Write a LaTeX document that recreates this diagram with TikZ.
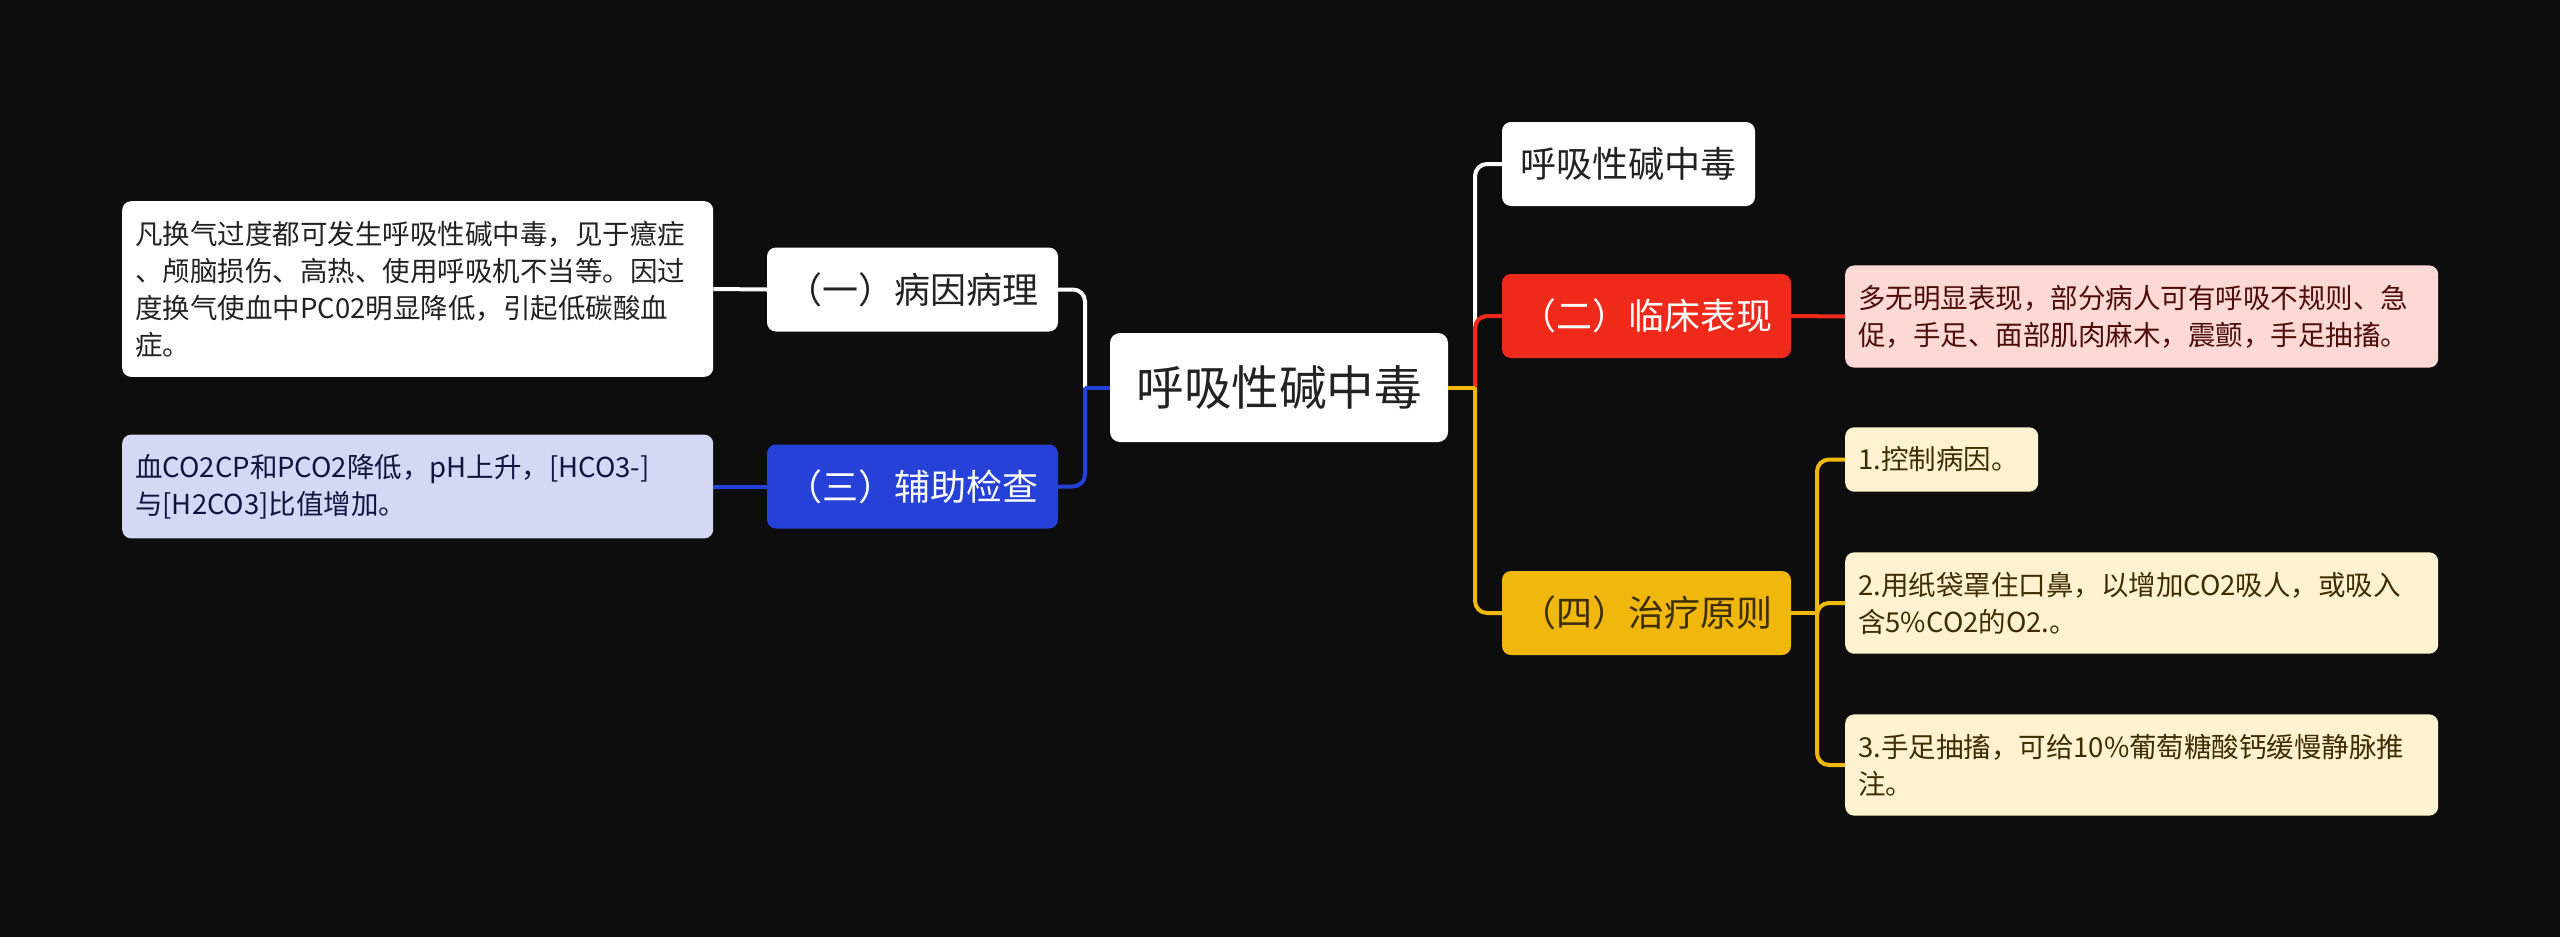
\documentclass[tikz,border=0pt]{standalone}
\usepackage{fontspec}
\setmainfont{Noto Sans CJK SC}
\definecolor{bg}{HTML}{0D0D0D}
\definecolor{cred}{HTML}{EF2A1B}
\definecolor{cblue}{HTML}{2541D8}
\definecolor{cyel}{HTML}{F0B80C}
\definecolor{fpink}{HTML}{FDD9D6}
\definecolor{fyel}{HTML}{FEF2D0}
\definecolor{flav}{HTML}{D5D8F5}
\definecolor{tpink}{HTML}{4D0E0A}
\definecolor{tyel}{HTML}{3D2D00}
\definecolor{tlav}{HTML}{101540}
\definecolor{tdark}{HTML}{222222}
\begin{document}
\begin{tikzpicture}[x=1pt,y=-1pt,
  rootbox/.style={rectangle, rounded corners=10pt, fill=white, text=tdark, minimum width=338pt, minimum height=109pt, inner sep=0pt, font=\fontsize{47.5}{56}\selectfont},
  subbox/.style={rectangle, rounded corners=9pt, minimum height=84pt, inner sep=0pt, font=\fontsize{36}{42}\selectfont},
  leafbox/.style={rectangle, rounded corners=9pt, anchor=west, inner xsep=13pt, inner ysep=19.5pt, align=left, font=\fontsize{27.5}{37}\selectfont},
  conn/.style={line width=4pt, rounded corners=12pt}]
\fill[bg] (0,0) rectangle (2560,937);
\useasboundingbox (0,0) rectangle (2560,937);

% root
\node[rootbox] (root) at (1279,387.5) {呼吸性碱中毒};

% right children
\node[subbox, fill=white, text=tdark, minimum width=253pt] (s1) at (1628.5,164) {呼吸性碱中毒};
\node[subbox, fill=cred, text=white, minimum width=289pt] (s2) at (1646.5,316) {（二）临床表现};
\node[subbox, fill=cyel, text=tyel, minimum width=289pt] (s4) at (1646.5,613) {（四）治疗原则};

% left children
\node[subbox, fill=white, text=tdark, minimum width=291pt] (s1l) at (912.5,289.5) {（一）病因病理};
\node[subbox, fill=cblue, text=white, minimum width=291pt] (s3) at (912.5,486.5) {（三）辅助检查};

% leaves
\node[leafbox, fill=fpink, text=tpink, text width=567pt] (lr) at (1845,316.5) {多无明显表现，部分病人可有呼吸不规则、急\\促，手足、面部肌肉麻木，震颤，手足抽搐。};
\node[leafbox, fill=fyel, text=tyel, text width=167pt] (y1) at (1845,459.5) {1.控制病因。};
\node[leafbox, fill=fyel, text=tyel, text width=567pt] (y2) at (1845,603) {2.用纸袋罩住口鼻，以增加CO2吸人，或吸入\\含5\%CO2的O2.。};
\node[leafbox, fill=fyel, text=tyel, text width=567pt] (y3) at (1845,765) {3.手足抽搐，可给10\%葡萄糖酸钙缓慢静脉推\\注。};
\node[leafbox, fill=white, text=tdark, text width=565pt] (l1) at (122,289) {凡换气过度都可发生呼吸性碱中毒，见于癔症\\、颅脑损伤、高热、使用呼吸机不当等。因过\\度换气使血中PC02明显降低，引起低碳酸血\\症。};
\node[leafbox, fill=flav, text=tlav, text width=565pt] (l2) at (122,486.5) {血CO2CP和PCO2降低，pH上升，[HCO3-]\\与[H2CO3]比值增加。};

% junction coordinates
\coordinate (rj) at (1475,387.5);
\coordinate (lj) at (1085,387.5);
\coordinate (yj) at (1817,613);

% right connectors
\draw[conn, white] (rj) |- (s1.west);
\draw[conn, cred] (rj) |- (s2.west);
\draw[conn, cyel] (rj) |- (s4.west);
\draw[conn, cyel] (root.east) -- (rj);

% left connectors
\draw[conn, white] (lj) |- (s1l.east);
\draw[conn, cblue] (lj) |- (s3.east);
\draw[conn, cblue] (root.west) -- (lj);

% leaf connectors
\draw[conn, cred] (s2.east) -- (lr.west);
\draw[conn, cyel] (yj) |- (y1.west);
\draw[conn, cyel] (yj) |- (y2.west);
\draw[conn, cyel] (yj) |- (y3.west);
\draw[conn, cyel] (s4.east) -- (yj);
\draw[conn, white] (s1l.west) -- (l1.east);
\draw[conn, cblue] (s3.west) -- (l2.east);
\end{tikzpicture}
\end{document}
